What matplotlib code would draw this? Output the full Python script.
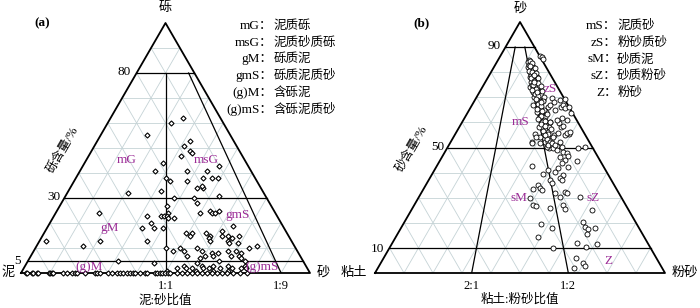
import numpy as np
import matplotlib
matplotlib.use('Agg')
import matplotlib.pyplot as plt

plt.rcParams['font.family'] = ['Liberation Serif', 'Noto Sans CJK SC']

H = np.sqrt(3) / 2
PURPLE = '#9b2c96'
GRID = '#c5d3d6'

# --- (a) gravel / sand / mud, percent (mud = 100 - gravel - sand) ---
a_gravel = [60, 62, 55, 51, 53, 49, 48, 47, 44, 41, 41, 41, 43, 38, 37, 37, 38, 38, 38, 33,
            34, 34, 35, 32, 31, 30, 28, 30, 27, 23, 24, 22, 23, 20, 18, 18, 18, 24, 24, 25,
            24, 24, 25, 19, 16, 16, 15, 16, 15, 14, 13, 15, 15, 13, 12, 14, 15, 12, 10, 11,
            13, 11, 13, 13, 10, 10, 9, 7, 9, 10, 9, 8, 8, 7, 5, 7, 6, 4, 9, 7,
            9, 8, 7, 6, 5, 5, 4, 17, 23, 23, 22,
            2, 3, 2, 2, 3, 2, 2, 3, 2, 3, 2, 2, 3, 2, 1, 1, 1, 1,
            0, 0, 0, 0, 0, 0, 0, 0, 0, 0, 0, 0, 0, 0, 0, 0, 0, 0, 0, 0,
            0, 0, 0, 0, 0, 0, 0, 0, 0, 0, 0, 0, 0, 0, 0, 0, 0, 0, 0, 0,
            0, 0, 0, 0, 0, 0, 0, 0, 0, 0, 0, 0]
a_sand = [22, 25, 16, 31, 32, 34, 35, 32, 27, 26, 37, 44, 47, 31, 33, 39, 44, 47, 49, 32,
          44, 46, 45, 21, 53, 45, 47, 38, 37, 37, 39, 42, 32, 35, 33, 37, 40, 15, 50, 53,
          54, 55, 56, 64, 49, 51, 51, 56, 58, 58, 59, 62, 64, 65, 66, 66, 68, 69, 74, 76,
          2, 16, 21, 37, 45, 50, 52, 54, 48, 56, 58, 62, 64, 63, 66, 60, 59, 59, 67, 69,
          70, 72, 72, 73, 75, 31, 44, 61, 38, 39, 40,
          53, 55, 56, 58, 61, 62, 64, 65, 68, 70, 72, 75, 76, 77, 50, 60, 66, 71,
          1.7, 2.1, 3.8, 4.2, 5.5, 5.9, 9.7, 10, 10.7, 11.1, 14.5, 15.9, 17.6, 18.7, 19.4, 22.1, 25.6, 26.3, 27.3, 30.1,
          31.5, 33.2, 34.3, 35.3, 36.7, 37.7, 38.8, 39.4, 41.2, 42.9, 43.6, 46.4, 47.1, 48.1, 48.8, 49.8, 50.9, 51.6, 54, 55.7,
          57.4, 59.2, 60.9, 62.6, 64.4, 66.1, 67.8, 69.6, 71.3, 73.4, 75.8, 78.2]

# --- (b) sand / silt / clay, percent (clay = 100 - sand - silt) ---
b_sand = [85, 84, 83, 82, 82, 81, 80, 80, 79, 78, 78, 77, 76, 76, 75, 74, 74, 73, 72, 72,
          71, 70, 70, 69, 68, 68, 67, 66, 66, 65, 64, 64, 63, 62, 62, 61, 60, 60, 59, 58,
          58, 57, 56, 55, 55, 54, 53, 52, 52, 51, 50, 83, 81, 79, 77, 75, 73, 71, 69, 67, 65,
          84.5, 83.5, 82.5, 81.5, 80.5, 80, 79.5, 78.5, 77.5, 77.5, 76.5, 75.5, 75, 74.5, 73.5, 73, 72.5, 71.5, 70.5, 70,
          69.5, 68.5, 67.5, 66.5, 65.5, 64.5, 63.5, 62.5, 61.5, 60.5, 59.5, 58.5, 57.5, 56.5, 55.5, 53.5, 79, 76, 72, 68,
          86.5, 85.9, 85.1, 69.6, 68.2, 66.9, 64.9, 68.9, 66.3, 66.9, 65.6, 61, 61.6, 59.6, 58, 58.6, 55.4,
          55, 55.7, 54.3, 55, 54.3, 55.3, 52.3, 51, 50.3, 50.6, 50.3, 49.7,
          69.2, 66.3, 63.6, 60.3, 61, 55.7, 56.3, 54.3, 52.3,
          51.9, 51.9, 51, 51.7, 49.7, 51, 49, 52.3, 50.3, 48.3, 47.9, 46.6, 46.3, 45, 44.7, 43.7, 42.4, 41.7, 40.4, 41,
          39.3, 39, 37.7, 37.1, 37.1, 35.7, 35.1, 33.7, 33.1, 33.3, 32, 32.4, 31.8, 30.4, 30.4, 30, 27.1, 26.7, 26, 27.1,
          25.4, 25.1, 19.5, 17.8, 14.5, 20.4, 18.2, 17.4, 17.8, 15.5, 9.8, 11.8, 10.5, 11.6, 5.9, 4.1, 2.8, 2.1, 42.7]
b_silt = [10.5, 10.9, 12.2, 11.9, 13.5, 13.3, 13.6, 14.8, 14.9, 14.5, 16.7, 16.1, 17.5, 15.8, 17.5, 19.5, 16.6, 19.2, 18.5, 20.7,
          20.3, 21.9, 19.8, 23.6, 22.4, 21.8, 23.1, 23.5, 26.5, 24.9, 23.8, 27, 25.9, 27.7, 25.8, 27.7, 30.4, 27.6, 29.5, 27.7,
          31.1, 30.1, 31.7, 31.1, 34.2, 32.7, 34.3, 32.6, 33.6, 35.3, 35, 11.7, 13.9, 14.3, 17, 16.5, 18.4, 21.8, 21.4, 21.1, 25.9,
          11.2, 12.4, 12.3, 14.4, 12.9, 14.2, 15.8, 15.1, 15.1, 17.6, 16.5, 18.4, 17, 20.1, 18.6, 17.6, 21.2, 19.4, 20.9, 23.4,
          20.7, 23.7, 22.4, 24.1, 23.1, 25.2, 27.4, 25.9, 25.4, 28.4, 27.4, 29.3, 31.9, 29.6, 32, 32.6, 15.3, 16.8, 19.9, 23.4,
          13.7, 14.6, 15.5, 26.1, 27.7, 26.9, 29.6, 29.4, 30.9, 31.5, 32.7, 35.6, 33.6, 33.8, 35, 35.4, 39.3,
          38, 35.4, 34.4, 31.1, 29.8, 27.5, 34.2, 35.4, 34.1, 37.4, 47.3, 45.3,
          30.9, 33.9, 35.7, 30.2, 32.2, 38.3, 39.1, 28.4, 27.9,
          28.1, 31, 34.3, 35.1, 36.7, 36.6, 38.2, 37.7, 39.3, 40.8, 42.2, 43.4, 40.7, 43, 47.3, 42.6, 45.5, 42.4, 41.9, 39.3,
          38.4, 45.4, 45, 45.9, 41.8, 43.1, 38.8, 40.1, 41, 38, 46.1, 49.3, 50.2, 48.6, 55.5, 38.4, 40.9, 42.2, 47.3, 51.4,
          52.8, 62.2, 47.4, 52, 48.8, 61.4, 63.3, 64.9, 67, 65.3, 56.6, 63.7, 67.5, 70.9, 66.4, 69.6, 71, 67.6, 32.7]

a_legend = [('mG：', '泥质砾'), ('msG：', '泥质砂质砾'), ('gM：', '砾质泥'),
            ('gmS：', '砾质泥质砂'), ('(g)M：', '含砾泥'), ('(g)mS：', '含砾泥质砂')]
b_legend = [('mS：', '泥质砂'), ('zS：', '粉砂质砂'), ('sM：', '砂质泥'),
            ('sZ：', '砂质粉砂'), ('Z：', '粉砂')]


def tern(top, right):
    top = np.asarray(top, float) / 100
    right = np.asarray(right, float) / 100
    return right + top / 2, top * H


def frame(ax):
    ax.set_xlim(0, 1)
    ax.set_ylim(0, H)
    ax.axis('off')
    for k in range(1, 10):
        t = k / 10
        ax.plot([t / 2, 1 - t / 2], [t * H, t * H], color=GRID, lw=0.6, zorder=1)
        ax.plot([t, t + (1 - t) / 2], [0, (1 - t) * H], color=GRID, lw=0.6, zorder=1)
        ax.plot([1 - t, (1 - t) / 2], [0, (1 - t) * H], color=GRID, lw=0.6, zorder=1)
    ax.plot([0, 1, 0.5, 0], [0, 0, H, 0], color='k', lw=1.3, zorder=3, clip_on=False)


def hline(ax, t):
    ax.plot([t / 2, 1 - t / 2], [t * H, t * H], color='k', lw=0.9, zorder=3)


fig = plt.figure(figsize=(7, 3.08), dpi=100)

# ---------------- (a) ----------------
ax = fig.add_axes([21 / 700, 35 / 308, 289 / 700, 250 / 308])
frame(ax)
for t in [0.8, 0.3, 0.05]:
    hline(ax, t)
ax.plot([0.5, 0.5], [0, 0.8 * H], color='k', lw=0.9, zorder=3)
ax.plot([0.9, 0.18 + 0.4], [0, 0.8 * H], color='k', lw=0.9, zorder=3)

x, y = tern(a_gravel, a_sand)
ax.plot(x, y, 'D', ms=2.6, mfc='white', mec='k', mew=0.8, ls='none', zorder=4, clip_on=False)

ax.text(0.5, 0.918, '砾', ha='center', va='center', fontsize=9.5)
ax.text(-0.045, 0, '泥', ha='center', va='center', fontsize=9.5)
ax.text(1.046, 0, '砂', ha='center', va='center', fontsize=9.5)
ax.text(0.381, 0.696, '80', ha='right', va='center', fontsize=9.5)
ax.text(0.135, 0.263, '30', ha='right', va='center', fontsize=9.5)
ax.text(0.0, 0.042, '5', ha='right', va='center', fontsize=9.5)
ax.text(0.5, -0.045, '1:1', ha='center', va='center', fontsize=9)
ax.text(0.9, -0.045, '1:9', ha='center', va='center', fontsize=9)
ax.text(0.5, -0.094, '泥:砂比值', ha='center', va='center', fontsize=9)
ax.text(0.145, 0.426, '砾含量/%', ha='center', va='center', rotation=60, fontsize=9)
ax.text(0.073, 0.866, '(a)', ha='center', va='center', fontsize=9.5, fontweight='bold')
for i, (k, v) in enumerate(a_legend):
    yy = 0.856 - i * 0.058
    ax.text(0.873, yy, k, ha='right', va='center', fontsize=9.5)
    ax.text(0.873, yy, v, ha='left', va='center', fontsize=9)

for s, px, py in [('mG', 0.367, 0.391), ('msG', 0.641, 0.391), ('gM', 0.305, 0.156),
                  ('(g)M', 0.236, 0.021), ('gmS', 0.748, 0.201), ('(g)mS', 0.835, 0.021)]:
    ax.text(px, py, s, color=PURPLE, ha='center', va='center', fontsize=9.5, zorder=5)

# ---------------- (b) ----------------
bx = fig.add_axes([375 / 700, 35 / 308, 290 / 700, 251 / 308])
frame(bx)
for t in [0.9, 0.5, 0.1]:
    hline(bx, t)
bx.plot([1 / 3, 0.1 / 3 + 0.45], [0, 0.9 * H], color='k', lw=0.9, zorder=3)
bx.plot([2 / 3, 0.2 / 3 + 0.45], [0, 0.9 * H], color='k', lw=0.9, zorder=3)

x, y = tern(b_sand, b_silt)
bx.plot(x, y, 'o', ms=3.6, mfc='white', mec='k', mew=0.6, ls='none', zorder=4, clip_on=False)

bx.text(0.5, 0.912, '砂', ha='center', va='center', fontsize=9.5)
bx.text(-0.072, 0, '粘土', ha='center', va='center', fontsize=9.5)
bx.text(1.067, 0, '粉砂', ha='center', va='center', fontsize=9.5)
bx.text(0.435, 0.784, '90', ha='right', va='center', fontsize=9.5)
bx.text(0.238, 0.435, '50', ha='right', va='center', fontsize=9.5)
bx.text(0.031, 0.083, '10', ha='right', va='center', fontsize=9.5)
bx.text(1 / 3, -0.045, '2:1', ha='center', va='center', fontsize=9)
bx.text(2 / 3, -0.045, '1:2', ha='center', va='center', fontsize=9)
bx.text(0.5, -0.093, '粘土:粉砂比值', ha='center', va='center', fontsize=9)
bx.text(0.128, 0.428, '砂含量/%', ha='center', va='center', rotation=60, fontsize=9)
bx.text(0.162, 0.860, '(b)', ha='center', va='center', fontsize=9.5, fontweight='bold')
for i, (k, v) in enumerate(b_legend):
    yy = 0.853 - i * 0.058
    bx.text(0.835, yy, k, ha='right', va='center', fontsize=9.5)
    bx.text(0.835, yy, v, ha='left', va='center', fontsize=9)

for s, px, py in [('zS', 0.604, 0.636), ('mS', 0.501, 0.522), ('sM', 0.497, 0.259),
                  ('sZ', 0.753, 0.259), ('Z', 0.805, 0.041)]:
    bx.text(px, py, s, color=PURPLE, ha='center', va='center', fontsize=9.5, zorder=5)

fig.savefig('out.png', dpi=100)
